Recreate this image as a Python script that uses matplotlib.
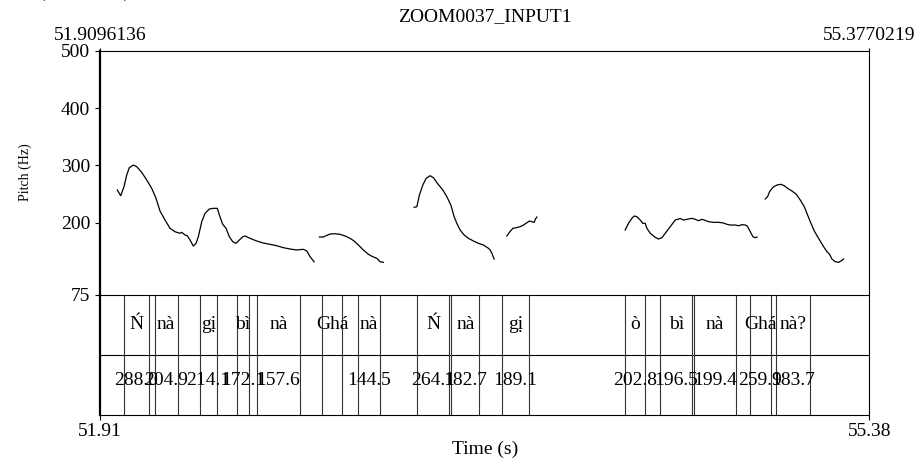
import matplotlib
matplotlib.use("Agg")
import matplotlib.pyplot as plt

plt.rcParams['font.family'] = ['Liberation Serif', 'DejaVu Serif']

T0, T1 = 51.9096136, 55.3770219

# pitch contour pieces (time s, Hz)
seg1_t = [51.9876, 52.0029, 52.0178, 52.0300, 52.0417, 52.0598, 52.0751, 52.0976, 52.1202, 52.1427,
          52.1621, 52.1801, 52.2027, 52.2252, 52.2478, 52.2703, 52.2780, 52.2929, 52.3032, 52.3154,
          52.3303, 52.3425, 52.3528, 52.3682, 52.3830, 52.4024, 52.4205, 52.4385, 52.4475, 52.4629,
          52.4777, 52.4926, 52.5080, 52.5228, 52.5377, 52.5531, 52.5634, 52.5860, 52.6162, 52.6459,
          52.6761, 52.7064, 52.7361, 52.7663, 52.7965, 52.8263, 52.8416, 52.8565, 52.8745]
seg1_f = [257.1, 247.2, 262.9, 283.3, 296.0, 300.7, 297.8, 288.0, 274.6, 260.1,
          242.7, 220.5, 204.8, 190.4, 184.4, 181.7, 183.4, 178.7, 177.4, 170.0,
          159.5, 164.2, 175.7, 201.9, 216.5, 224.0, 225.2, 225.2, 213.6, 197.3,
          190.4, 175.7, 167.0, 164.2, 170.0, 175.7, 177.0, 172.9, 168.2, 164.7,
          162.5, 160.0, 156.6, 154.3, 152.6, 153.8, 150.8, 140.9, 132.1]

seg2_t = [52.8984, 52.9165, 52.9286, 52.9467, 52.9692, 52.9918, 53.0143, 53.0369, 53.0549, 53.0743,
          53.0968, 53.1194, 53.1392, 53.1572, 53.1721, 53.1870]
seg2_f = [175.2, 175.2, 177.5, 180.4, 181.0, 179.9, 177.0, 172.9, 168.2, 161.3,
          152.5, 145.0, 140.8, 138.1, 132.1, 131.1]

seg3_t = [53.3254, 53.3376, 53.3493, 53.3647, 53.3795, 53.3976, 53.4125, 53.4305, 53.4548, 53.4729,
          53.4909, 53.5058, 53.5180, 53.5328, 53.5509, 53.5703, 53.5928, 53.6154, 53.6379, 53.6605,
          53.6681, 53.6758, 53.6861]
seg3_f = [227.0, 228.0, 248.4, 265.9, 277.5, 282.1, 278.6, 268.8, 257.1, 245.5,
          231.0, 210.6, 199.1, 187.4, 178.7, 172.9, 168.2, 164.2, 161.3, 155.5,
          152.6, 146.8, 136.8]

seg4_t = [53.7434, 53.7551, 53.7705, 53.7853, 53.8034, 53.8183, 53.8336, 53.8453, 53.8561, 53.8665,
          53.8724, 53.8787]
seg4_f = [177.0, 183.4, 190.4, 191.4, 193.2, 196.1, 200.1, 203.1, 201.9, 200.8,
          206.6, 210.1]

seg5_t = [54.2768, 54.2917, 54.3070, 54.3174, 54.3296, 54.3445, 54.3566, 54.3670, 54.3747, 54.3896,
          54.4121, 54.4270, 54.4423, 54.4572, 54.4797, 54.5023, 54.5248, 54.5397, 54.5551, 54.5776,
          54.5925, 54.6074, 54.6227, 54.6331, 54.6525, 54.6750, 54.6976, 54.7201, 54.7355, 54.7503,
          54.7729, 54.7878, 54.8031, 54.8179, 54.8256, 54.8328, 54.8405, 54.8526, 54.8630, 54.8707]
seg5_f = [187.4, 199.1, 207.8, 211.8, 210.6, 204.8, 199.1, 199.1, 190.4, 181.7,
          174.7, 171.7, 174.0, 181.7, 193.2, 204.8, 207.5, 204.8, 206.1, 207.8,
          206.1, 203.6, 206.1, 204.8, 201.9, 200.8, 200.8, 199.6, 197.3, 196.1,
          196.1, 194.9, 196.7, 196.1, 194.9, 190.4, 184.4, 175.7, 174.0, 175.2]

seg6_t = [54.9081, 54.9185, 54.9275, 54.9428, 54.9609, 54.9789, 54.9938, 55.0087, 55.0285, 55.0479,
          55.0659, 55.0839, 55.0988, 55.1141, 55.1290, 55.1484, 55.1683, 55.1863, 55.1980, 55.2088,
          55.2237, 55.2386, 55.2494, 55.2611]
seg6_f = [241.5, 245.5, 254.2, 261.9, 265.9, 267.1, 264.6, 260.1, 255.4, 249.7,
          239.7, 228.0, 213.6, 199.1, 185.7, 172.9, 160.0, 149.6, 145.0, 136.8,
          132.1, 131.1, 133.4, 136.8]

# textgrid intervals
syl_start = [52.0178, 52.1553, 52.3605, 52.5260, 52.6162, 52.9093, 53.0743, 53.3403,
             53.4923, 53.7209, 54.2768, 54.4346, 54.5848, 54.8385, 54.9555]
syl_end = [52.1283, 52.2600, 52.4358, 52.5828, 52.8114, 53.0021, 53.1721, 53.4847,
           53.6199, 53.8454, 54.3639, 54.5789, 54.7754, 54.9330, 55.1116]
syllables = ["Ń", "nà", "gị", "bì", "nà", "Ghá", "nà", "Ń", "nà", "gị", "ò", "bì", "nà", "Ghá", "nà?"]
pitch_vals = ["288.0", "204.9", "214.1", "172.1", "157.6", "", "144.5", "264.1",
              "182.7", "189.1", "202.8", "196.5", "199.4", "259.9", "183.7"]

W, H = 921, 459
FS = 14

fig = plt.figure(figsize=(W / 100, H / 100), dpi=100)
L, R, TOP, MID, BOT = 100, 869.3, 50.7, 294.5, 415
ax = fig.add_axes([L / W, 1 - MID / H, (R - L) / W, (MID - TOP) / H])
tx = fig.add_axes([L / W, 1 - BOT / H, (R - L) / W, (BOT - MID) / H])
tx.patch.set_visible(False)

for t, f in [(seg1_t, seg1_f), (seg2_t, seg2_f), (seg3_t, seg3_f),
             (seg4_t, seg4_f), (seg5_t, seg5_f), (seg6_t, seg6_f)]:
    ax.plot(t, f, color="black", lw=0.9)

ax.set_xlim(T0, T1)
ax.set_ylim(75, 500)
ax.set_yticks([75, 200, 300, 400, 500])
ax.tick_params(axis="y", length=3.6, width=0.8, pad=3.6, labelsize=FS)
ax.xaxis.tick_top()
ax.set_xticks([T0, T1])
ax.set_xticklabels(["51.9096136", "55.3770219"])
ax.tick_params(axis="x", length=2.2, width=0.8, pad=2.5, labelsize=FS)
ax.set_ylabel("Pitch (Hz)", fontsize=10)
ax.yaxis.set_label_coords((32 - L) / (R - L), 0.5)
for s in ax.spines.values():
    s.set_linewidth(0.8)
ax.spines["left"].set_linewidth(1.6)

# tiers
tx.set_xlim(T0, T1)
tx.set_ylim(0, 2)
tx.set_yticks([])
tx.spines["top"].set_visible(False)
for s in ["left", "right", "bottom"]:
    tx.spines[s].set_linewidth(0.8)
tx.spines["left"].set_linewidth(1.6)
tx.axhline(1, color="black", lw=0.8)
tx.vlines(syl_start + syl_end, 0, 2, color="#333333", lw=0.8)
for a, b, lab, val in zip(syl_start, syl_end, syllables, pitch_vals):
    c = (a + b) / 2
    tx.text(c, 1.5, lab, ha="center", va="center", fontsize=FS)
    if val:
        tx.text(c, 0.57, val, ha="center", va="center", fontsize=FS)

tx.set_xticks([T0, T1])
tx.set_xticklabels(["51.91", "55.38"])
tx.tick_params(axis="x", length=3.6, width=0.8, pad=2.5, labelsize=FS)
tx.set_xlabel("Time (s)", fontsize=FS, labelpad=0)

fig.text((L + R) / 2 / W, 1 - 17 / H, "ZOOM0037_INPUT1", ha="center", va="center", fontsize=FS)
fig.text(85 / W, 1 + 8 / H, "(" + " " * 16 + ")", ha="center", va="center", fontsize=FS)

fig.savefig("out.png", dpi=100)
